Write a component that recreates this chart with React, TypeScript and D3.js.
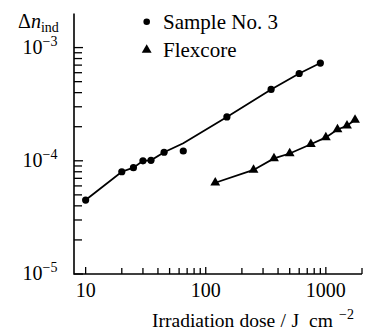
import React from "react";
import * as d3 from "d3";

const sampleDose = [10, 20, 25, 30, 35, 45, 65, 150, 350, 600, 900];
const sampleDn = [4.5e-5, 8.0e-5, 8.7e-5, 1.0e-4, 1.01e-4, 1.19e-4, 1.22e-4, 2.44e-4, 4.27e-4, 5.9e-4, 7.3e-4];
const sampleLineDose = [10, 20, 25, 30, 35, 45, 65, 150, 350, 600, 900];
const sampleLineDn = [4.5e-5, 8.0e-5, 8.7e-5, 1.0e-4, 1.01e-4, 1.19e-4, 1.43e-4, 2.44e-4, 4.27e-4, 5.9e-4, 7.3e-4];
const flexDose = [120, 250, 370, 500, 750, 1000, 1250, 1500, 1750];
const flexDn = [6.4e-5, 8.3e-5, 1.05e-4, 1.16e-4, 1.4e-4, 1.61e-4, 1.89e-4, 2.04e-4, 2.3e-4];
const xMajor = [10, 100, 1000];
const xMajorLabels = ["10", "100", "1000"];
const xMinor = [20, 30, 40, 50, 60, 70, 80, 90, 200, 300, 400, 500, 600, 700, 800, 900, 2000];
const yMajor = [1e-5, 1e-4, 1e-3];
const yMajorExp = ["−5", "−4", "−3"];
const yMinor = [2e-5, 3e-5, 4e-5, 5e-5, 6e-5, 7e-5, 8e-5, 9e-5, 2e-4, 3e-4, 4e-4, 5e-4, 6e-4, 7e-4, 8e-4, 9e-4];
const legendLabels = ["Sample No. 3", "Flexcore"];
const xTitleParts = ["Irradiation", "dose", "/", "J", "cm"];
const xTitleExp = "−2";

const FONT = "Liberation Serif, DejaVu Serif, Times New Roman, serif";

export default function App() {
  const W = 367, H = 333;
  const x = d3.scaleLog().domain([8, 2000]).range([74, 362]);
  const y = d3.scaleLog().domain([1e-5, 2e-3]).range([274, 13.5]);
  const line = d3.line<[number, number]>().x(d => x(d[0])).y(d => y(d[1]));
  const sampleLine = line(sampleLineDose.map((d, i) => [d, sampleLineDn[i]] as [number, number]));
  const flexLine = line(flexDose.map((d, i) => [d, flexDn[i]] as [number, number]));
  const tri = d3.symbol().type(d3.symbolTriangle).size(42)();
  const x0 = x.range()[0], x1 = x.range()[1];
  const y0 = y.range()[0], y1 = y.range()[1];
  const ts = { fontFamily: FONT };
  const titleX = [152, 239.5, 280.5, 291.5, 309];
  return (
    <svg width={W} height={H} style={{ position: "absolute", left: 0, top: 0, background: "#fff", fontFamily: FONT }}>
      <rect x={0} y={0} width={W} height={H} fill="#fff" />
      <path d={`M${x0},${y1}V${y0}H${x1}`} fill="none" stroke="#000" strokeWidth={1.6} />
      {xMajor.map(v => (
        <line key={"xM" + v} x1={x(v)} x2={x(v)} y1={y0} y2={y0 - 7} stroke="#000" strokeWidth={1.3} />
      ))}
      {xMinor.map(v => (
        <line key={"xm" + v} x1={x(v)} x2={x(v)} y1={y0} y2={y0 - 6} stroke="#000" strokeWidth={1.3} />
      ))}
      {yMajor.map(v => (
        <line key={"yM" + v} x1={x0} x2={x0 + 9} y1={y(v)} y2={y(v)} stroke="#000" strokeWidth={1.3} />
      ))}
      {yMinor.map(v => (
        <line key={"ym" + v} x1={x0} x2={x0 + 8} y1={y(v)} y2={y(v)} stroke="#000" strokeWidth={1.3} />
      ))}
      {xMajor.map((v, i) => (
        <text key={"xl" + v} style={ts} x={x(v)} y={296.5} textAnchor="middle" fontSize={20}>{xMajorLabels[i]}</text>
      ))}
      {yMajor.map((v, i) => (
        <text key={"yl" + v} style={ts} x={22.5} y={y(v) + 6.3} fontSize={20}>
          10<tspan dy={-8} fontSize={14}>{yMajorExp[i]}</tspan>
        </text>
      ))}
      <text style={ts} x={18} y={28} fontSize={20}>
        Δ<tspan fontStyle="italic">n</tspan><tspan dy={4} fontSize={14}>ind</tspan>
      </text>
      <text style={ts} y={327} fontSize={19.5}>
        {xTitleParts.map((p, i) => (
          <tspan key={"t" + i} x={titleX[i]}>{p}</tspan>
        ))}
        <tspan x={339} dy={-8} fontSize={14}>{xTitleExp}</tspan>
      </text>
      <path d={sampleLine || ""} fill="none" stroke="#000" strokeWidth={1.8} />
      <path d={flexLine || ""} fill="none" stroke="#000" strokeWidth={1.8} />
      {sampleDose.map((d, i) => (
        <circle key={"s" + i} cx={x(d)} cy={y(sampleDn[i])} r={3.6} fill="#000" />
      ))}
      {flexDose.map((d, i) => (
        <path key={"f" + i} d={tri || ""} transform={`translate(${x(d)},${y(flexDn[i])})`} fill="#000" />
      ))}
      <circle cx={146.7} cy={21.7} r={3.3} fill="#000" />
      <text style={ts} x={163} y={29} fontSize={21}>{legendLabels[0]}</text>
      <path d={tri || ""} transform="translate(146.7,50)" fill="#000" />
      <text style={ts} x={163} y={57} fontSize={21}>{legendLabels[1]}</text>
    </svg>
  );
}
